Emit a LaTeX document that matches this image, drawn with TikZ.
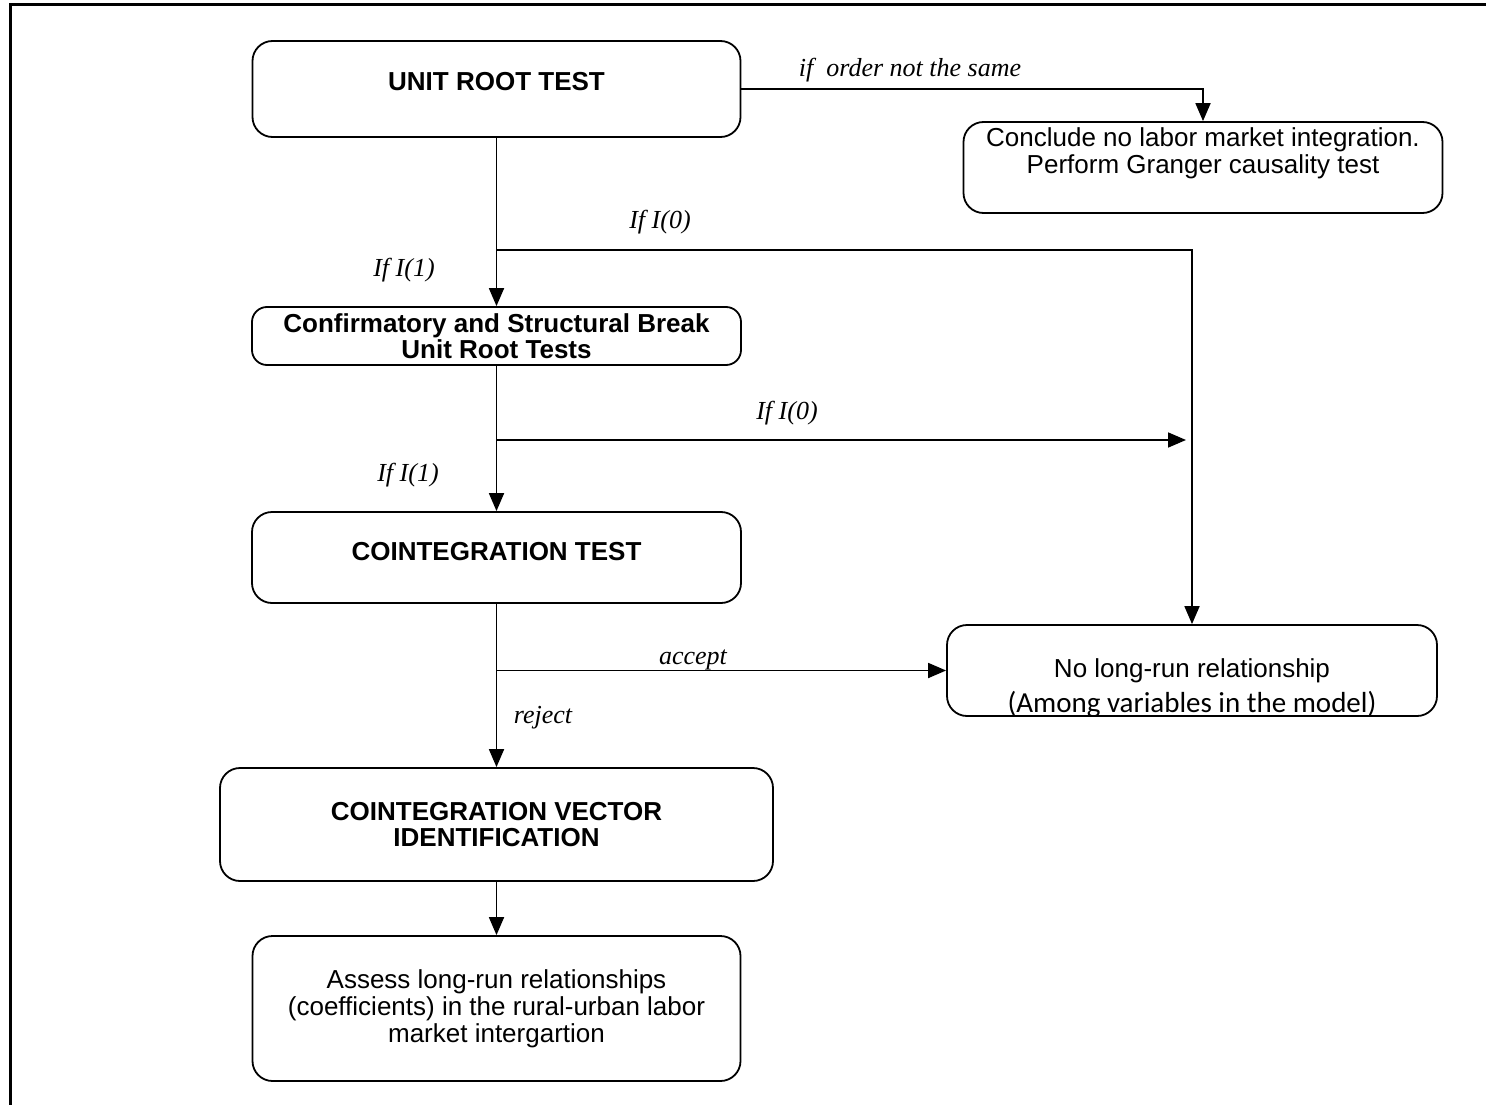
\documentclass[tikz,border=0pt]{standalone}
\usepackage{fontspec}
\setmainfont{Liberation Serif}
\setsansfont{Liberation Sans}
\newfontfamily\calibri{Carlito}
\usetikzlibrary{arrows.meta,positioning}

\tikzset{
  box/.style={draw,rounded corners=20pt,line width=1.8pt,align=center,
    inner sep=0pt,font=\sffamily\fontsize{26}{27}\selectfont},
  boldbox/.style={box,font=\sffamily\bfseries\fontsize{26}{26}\selectfont},
  txt/.style={align=center,inner sep=0pt,font=\sffamily\fontsize{26}{27}\selectfont},
  boldtxt/.style={txt,font=\sffamily\bfseries\fontsize{26}{26}\selectfont},
  lbl/.style={inner sep=0pt,font=\itshape\fontsize{26}{27}\selectfont},
  conn/.style={line width=1.8pt},
  arr/.style={conn,-{Triangle[length=18pt,width=15pt]}},
}

\begin{document}
\begin{tikzpicture}[x=1pt,y=-1pt]
    \useasboundingbox (0,0) rectangle (1486,1105);

    % Cadre
    \draw[line width=3pt] (10,1105) -- (10,5) -- (1486,5);

    % Boites
    \node[box,minimum width=488,minimum height=96] (unit) at (496.5,89) {};
    \node[boldtxt] (unittxt) at (496.5,82) {UNIT ROOT TEST};
    \node[box,minimum width=479,minimum height=91] (conc) at (1203,167.5) {};
    \node[txt] (conctxt) at (1203,153.5) {Conclude no labor market integration.\\Perform Granger causality test};
    \node[boldbox,rounded corners=15pt,minimum width=489,minimum height=58] (confirm) at (496.5,336)
        {Confirmatory and Structural Break\\Unit Root Tests};
    \node[box,minimum width=489,minimum height=91] (coint) at (496.5,557.5) {};
    \node[boldtxt] (cointtxt) at (496.5,552) {COINTEGRATION TEST};
    \node[box,minimum width=490,minimum height=91] (nolr) at (1192,670.5) {};
    \node[txt] (nolrtxt) at (1192,671) {No long-run relationship};
    \node[txt,font=\calibri\fontsize{29}{30}\selectfont] (nolrtxt2) at (1192,704) {(Among variables in the model)};
    \node[boldbox,minimum width=553,minimum height=113] (vec) at (496.5,824.5)
        {COINTEGRATION VECTOR\\IDENTIFICATION};
    \node[box,minimum width=488,minimum height=145] (assess) at (496.5,1008.5)
        {Assess long-run relationships\\(coefficients) in the rural-urban labor\\market intergartion};

    % Points de branchement
    \coordinate (b1) at (496.5,250);
    \coordinate (b2) at (496.5,440);
    \coordinate (j2) at (1186,440);
    \coordinate (b3) at (496.5,670.5);

    % Fleches
    \draw[arr] (unit.east) -| (conc.north);
    \draw[arr] (unit.south) -- (confirm.north);
    \draw[arr] (b1) -| (nolr.north);
    \draw[arr] (confirm.south) -- (coint.north);
    \draw[arr] (b2) -- (j2);
    \draw[arr] (coint.south) -- (vec.north);
    \draw[arr] (b3) -- (nolr.west);
    \draw[arr] (vec.south) -- (assess.north);

    % Etiquettes
    \node[lbl] (lorder) at (910,70) {if\ \ order not the same};
    \node[lbl] (lzero1) at (660,222) {If I(0)};
    \node[lbl] (lone1) at (404,270) {If I(1)};
    \node[lbl] (lzero2) at (787,413) {If I(0)};
    \node[lbl] (lone2) at (408,475) {If I(1)};
    \node[lbl] (lacc) at (693,660) {accept};
    \node[lbl] (lrej) at (543,718) {reject};

\end{tikzpicture}
\end{document}
